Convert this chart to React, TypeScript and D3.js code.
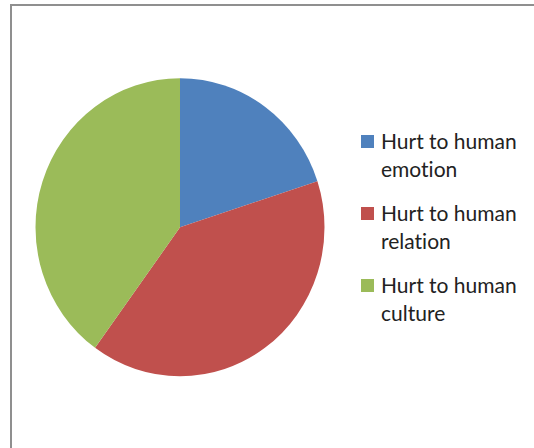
import React from "react";
import * as d3 from "d3";

const categories = ["Hurt to human emotion", "Hurt to human relation", "Hurt to human culture"];
const values = [20, 40, 40];
const colors = ["#4F81BD", "#C0504D", "#9BBB59"];
const legendLines = [
  ["Hurt to human", "emotion"],
  ["Hurt to human", "relation"],
  ["Hurt to human", "culture"],
];

export default function App() {
  const W = 534, H = 448;
  const cx = 180, cy = 227.3, r = 144.5, sy = 149 / 144.5;
  const pie = d3.pie<number>().sort(null).value((d) => d)(values);
  const arc = d3.arc<d3.PieArcDatum<number>>().innerRadius(0).outerRadius(r);
  return (
    <svg width={W} height={H} style={{ position: "absolute", left: 0, top: 0, background: "#fff", fontVariantLigatures: "none" }}
      fontFamily="Lato, 'Open Sans', sans-serif">
      <rect x={0} y={0} width={W} height={H} fill="#fff" />
      <rect x={11} y={5} width={W + 20} height={H + 20} fill="#fff" stroke="#8f8f8f" strokeWidth={2} />
      <g transform={`translate(${cx},${cy}) scale(1,${sy})`}>
        {pie.map((p, i) => (
          <path key={categories[i]} d={arc(p) || ""} fill={colors[i]} />
        ))}
      </g>
      {legendLines.map((lines, i) => (
        <g key={i} transform={`translate(361,${135 + i * 72})`}>
          <rect x={0} y={0} width={13} height={13} fill={colors[i]} />
          {lines.map((t, j) => (
            <text key={j} x={20} y={14 + j * 28} fontSize={21} fill="#222">{t}</text>
          ))}
        </g>
      ))}
    </svg>
  );
}
